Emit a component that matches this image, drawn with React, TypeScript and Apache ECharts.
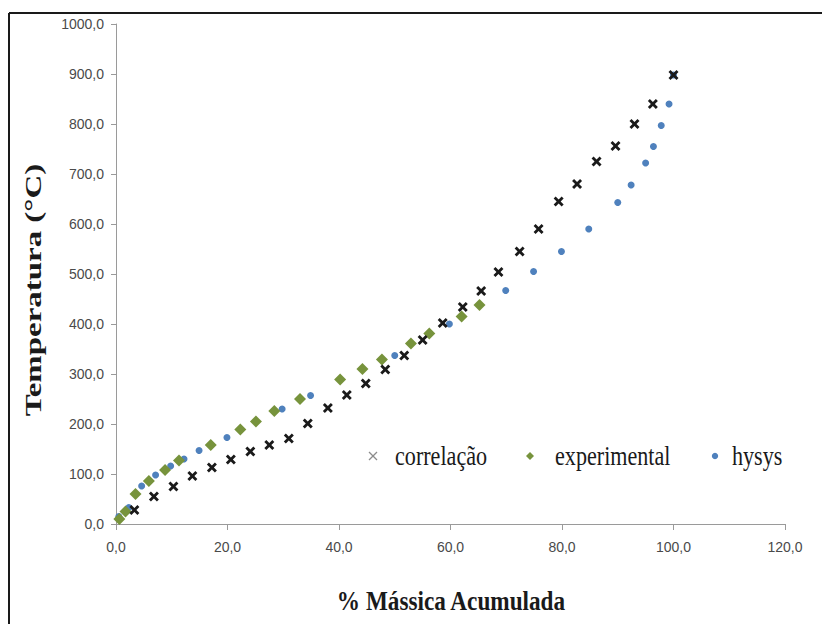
import React, { useEffect, useRef } from "react";
import * as echarts from "echarts";

const correlacaoX = [3.3, 6.8, 10.3, 13.7, 17.2, 20.6, 24.1, 27.5, 31.0, 34.4, 38.0, 41.4, 44.8, 48.3, 51.7, 55.0, 58.6, 62.2, 65.5, 68.6, 72.4, 75.8, 79.4, 82.7, 86.2, 89.6, 93.0, 96.3, 100.0];
const correlacaoY = [28, 55, 75, 96, 113, 129, 145, 158, 171, 201, 232, 258, 281, 309, 337, 368, 402, 434, 466, 504, 545, 590, 645, 680, 725, 756, 800, 840, 898];

const experimentalX = [0.6, 1.7, 3.5, 5.9, 8.8, 11.3, 17.0, 22.3, 25.1, 28.4, 33.0, 40.2, 44.2, 47.7, 52.9, 56.2, 62.0, 65.2];
const experimentalY = [10, 25, 60, 86, 108, 127, 158, 189, 205, 226, 250, 289, 310, 329, 361, 381, 415, 438];

const hysysX = [0.5, 2.3, 4.6, 7.1, 9.8, 12.2, 14.9, 19.9, 29.8, 34.9, 50.0, 59.8, 69.9, 74.9, 79.9, 84.8, 90.0, 92.4, 95.0, 96.4, 97.8, 99.2, 100.0];
const hysysY = [15, 33, 76, 98, 116, 130, 147, 173, 230, 257, 337, 400, 467, 505, 545, 590, 643, 678, 722, 755, 797, 840, 898];

const seriesNames = ["correlação", "experimental", "hysys"];
const seriesColors = ["#1a1a1a", "#77933c", "#4f81bd"];
const xAxisTitle = "% Mássica Acumulada";
const yAxisTitle = "Temperatura (°C)";

const CROSS = "path://M2,0 L5,3 L8,0 L10,2 L7,5 L10,8 L8,10 L5,7 L2,10 L0,8 L3,5 L0,2 Z";

const zip = (xs: number[], ys: number[]) => xs.map((x, i) => [x, ys[i]]);
const fmt = (v: number) => v.toFixed(1).replace(".", ",");

const SERIF = "Liberation Serif, Times New Roman, serif";

export default function App() {
  const ref = useRef<HTMLDivElement>(null);
  useEffect(() => {
    if (!ref.current) return;
    const chart = echarts.init(ref.current, undefined, { renderer: "svg" });
    const tickFont = { fontFamily: "Liberation Sans Narrow, Liberation Sans, sans-serif", fontSize: 14, color: "#4a4a4a" };
    const legendY = 456;
    const legendText = (text: string, x: number) => ({
      type: "text",
      x,
      y: legendY,
      scaleX: 0.82,
      style: { text, fontFamily: SERIF, fontSize: 27, fill: "#1a1a1a", align: "left", verticalAlign: "middle" },
    });
    chart.setOption({
      animation: false,
      backgroundColor: "#ffffff",
      grid: { left: 116, right: 37, top: 24, bottom: 100 },
      xAxis: {
        type: "value",
        min: 0,
        max: 120,
        interval: 20,
        axisLine: { lineStyle: { color: "#9a9a9a", width: 1 } },
        axisTick: { show: true, length: 6, lineStyle: { color: "#9a9a9a" } },
        axisLabel: { ...tickFont, margin: 16, formatter: fmt },
        splitLine: { show: false },
      },
      yAxis: {
        type: "value",
        min: 0,
        max: 1000,
        interval: 100,
        axisLine: { show: true, lineStyle: { color: "#9a9a9a", width: 1 } },
        axisTick: { show: true, length: 5, lineStyle: { color: "#9a9a9a" } },
        axisLabel: { ...tickFont, margin: 12, formatter: fmt },
        splitLine: { show: false },
      },
      graphic: [
        { type: "line", shape: { x1: 9, y1: 13, x2: 822, y2: 13 }, style: { stroke: "#1a1a1a", lineWidth: 2 } },
        { type: "line", shape: { x1: 9, y1: 13, x2: 9, y2: 624 }, style: { stroke: "#1a1a1a", lineWidth: 2 } },
        {
          type: "text",
          x: 451,
          y: 601,
          scaleX: 0.86,
          style: { text: xAxisTitle, fontFamily: SERIF, fontWeight: "bold", fontSize: 27, fill: "#1a1a1a", align: "center", verticalAlign: "middle" },
        },
        {
          type: "text",
          x: 34,
          y: 290,
          rotation: Math.PI / 2,
          scaleX: 1.22,
          scaleY: 0.82,
          style: { text: yAxisTitle, fontFamily: SERIF, fontWeight: "bold", fontSize: 27, fill: "#1a1a1a", align: "center", verticalAlign: "middle" },
        },
        // legend
        { type: "line", shape: { x1: 369, y1: 452, x2: 377, y2: 460 }, style: { stroke: "#8c8c8c", lineWidth: 1.3 } },
        { type: "line", shape: { x1: 377, y1: 452, x2: 369, y2: 460 }, style: { stroke: "#8c8c8c", lineWidth: 1.3 } },
        legendText(seriesNames[0], 395),
        { type: "polygon", shape: { points: [[530, 452], [534, 456], [530, 460], [526, 456]] }, style: { fill: seriesColors[1] } },
        legendText(seriesNames[1], 555),
        { type: "circle", shape: { cx: 715, cy: 456, r: 3.2 }, style: { fill: seriesColors[2] } },
        legendText(seriesNames[2], 732),
      ],
      series: [
        {
          name: seriesNames[2],
          type: "scatter",
          symbol: "circle",
          symbolSize: 7,
          itemStyle: { color: seriesColors[2], opacity: 1 },
          data: zip(hysysX, hysysY),
          z: 2,
        },
        {
          name: seriesNames[1],
          type: "scatter",
          symbol: "diamond",
          symbolSize: 12,
          itemStyle: { color: seriesColors[1], opacity: 1 },
          data: zip(experimentalX, experimentalY),
          z: 3,
        },
        {
          name: seriesNames[0],
          type: "scatter",
          symbol: CROSS,
          symbolSize: 10,
          itemStyle: { color: seriesColors[0], opacity: 1 },
          data: zip(correlacaoX, correlacaoY),
          z: 4,
        },
      ],
    });
    return () => chart.dispose();
  }, []);
  return <div ref={ref} style={{ position: "fixed", left: 0, top: 0, width: 822, height: 624 }} />;
}
